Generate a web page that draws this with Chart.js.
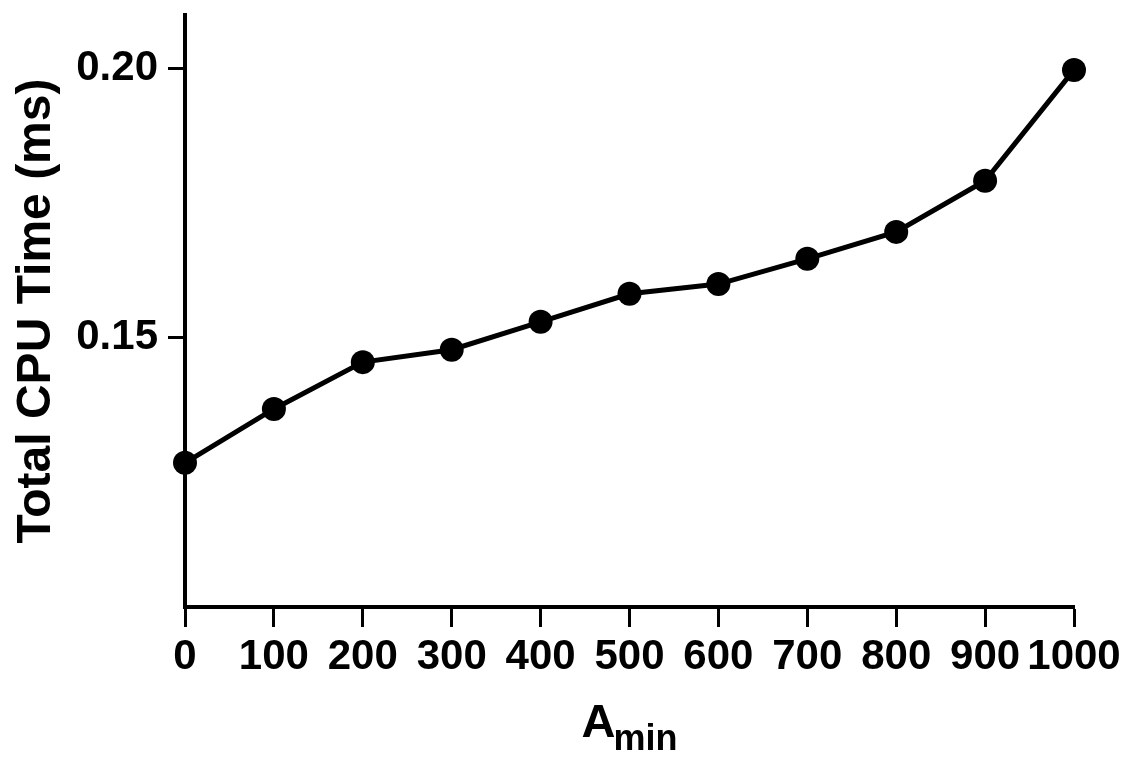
<!DOCTYPE html>
<html>
<head>
<meta charset="utf-8">
<title>Total CPU Time vs Amin</title>
<script src="https://cdn.jsdelivr.net/npm/chart.js@4/dist/chart.umd.min.js"></script>
<style>
    html, body { margin: 0; padding: 0; background: #fff; }
    #wrap { width: 1130px; height: 760px; }
</style>
</head>
<body>
<div id="wrap"><canvas id="cpuChart" width="1130" height="760"></canvas></div>
<script>
const aMin = [0, 100, 200, 300, 400, 500, 600, 700, 800, 900, 1000];
const cpuTime = [0.1268, 0.1368, 0.1455, 0.1478, 0.1530, 0.1582, 0.1600, 0.1647, 0.1697, 0.1792, 0.1998];
const yTicks = [0.15, 0.20];
const yTitle = 'Total CPU Time (ms)';
const xTitleMain = 'A';
const xTitleSub = 'min';

const FONT = '"Liberation Sans", Arial, sans-serif';

// x axis title with subscript, drawn as canvas text
const subTitlePlugin = {
    id: 'subTitle',
    afterDraw(chart) {
        const ctx = chart.ctx;
        const area = chart.chartArea;
        ctx.save();
        ctx.fillStyle = '#000';
        ctx.textBaseline = 'alphabetic';
        ctx.textAlign = 'left';
        ctx.font = 'bold 47px ' + FONT;
        const wMain = ctx.measureText(xTitleMain).width;
        ctx.font = 'bold 36px ' + FONT;
        const wSub = ctx.measureText(xTitleSub).width;
        const gap = -2;
        const start = (area.left + area.right) / 2 - (wMain + gap + wSub) / 2;
        ctx.font = 'bold 47px ' + FONT;
        ctx.fillText(xTitleMain, start, 737);
        ctx.font = 'bold 36px ' + FONT;
        ctx.fillText(xTitleSub, start + wMain + gap, 750);
        ctx.restore();
    }
};

const ctx = document.getElementById('cpuChart').getContext('2d');
new Chart(ctx, {
    type: 'line',
    data: {
        datasets: [{
            data: aMin.map((x, i) => ({ x: x, y: cpuTime[i] })),
            borderColor: '#000',
            backgroundColor: '#000',
            borderWidth: 5,
            pointRadius: 12,
            pointBackgroundColor: '#000',
            pointBorderColor: '#000',
            pointBorderWidth: 0,
            tension: 0,
            clip: false
        }]
    },
    options: {
        responsive: false,
        animation: false,
        devicePixelRatio: 1,
        layout: { padding: { left: 0, right: 56, top: 15, bottom: 0 } },
        plugins: {
            legend: { display: false },
            tooltip: { enabled: false }
        },
        scales: {
            x: {
                type: 'linear',
                min: 0,
                max: 1000,
                afterFit: (scale) => {
                    scale.height = 153;
                    scale.paddingLeft = 0;
                    scale.paddingRight = 0;
                },
                border: { display: true, color: '#000', width: 4 },
                grid: {
                    drawOnChartArea: false,
                    drawTicks: true,
                    tickLength: 20,
                    tickColor: '#000',
                    tickWidth: 3
                },
                ticks: {
                    stepSize: 100,
                    padding: 5,
                    color: '#000',
                    maxRotation: 0,
                    autoSkip: false,
                    callback: (value) => String(value),
                    font: { family: FONT, size: 42, weight: 'bold' }
                }
            },
            y: {
                min: 0.10,
                max: 0.21,
                afterFit: (scale) => {
                    scale.width = 185;
                    scale.paddingTop = 0;
                    scale.paddingBottom = 0;
                },
                afterBuildTicks: (scale) => {
                    scale.ticks = yTicks.map(v => ({ value: v }));
                },
                border: { display: true, color: '#000', width: 4 },
                grid: {
                    drawOnChartArea: false,
                    drawTicks: true,
                    tickLength: 17,
                    tickColor: '#000',
                    tickWidth: 3
                },
                ticks: {
                    padding: 10,
                    color: '#000',
                    callback: (value) => Number(value).toFixed(2),
                    font: { family: FONT, size: 42, weight: 'bold' }
                },
                title: {
                    display: true,
                    text: yTitle,
                    color: '#000',
                    padding: { top: 8, bottom: 0 },
                    font: { family: FONT, size: 48, weight: 'bold' }
                }
            }
        }
    },
    plugins: [subTitlePlugin]
});
</script>
</body>
</html>
